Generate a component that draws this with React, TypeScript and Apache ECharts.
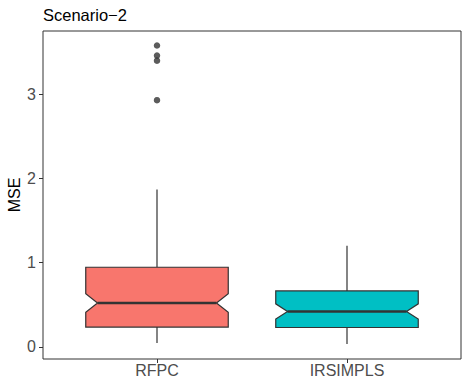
import React, { useEffect, useRef } from "react";
import * as echarts from "echarts";

const categories = ["RFPC", "IRSIMPLS"];
const lowerWhisker = [0.045, 0.032];
const q1 = [0.234, 0.229];
const notchLower = [0.41, 0.33];
const median = [0.52, 0.42];
const notchUpper = [0.63, 0.51];
const q3 = [0.945, 0.664];
const upperWhisker = [1.87, 1.2];
const outlierGroup = [1, 1, 1, 1];
const outlierValues = [3.58, 3.46, 3.4, 2.93];
const fillColors = ["#F8766D", "#00BFC4"];
const yTicks = [0, 1, 2, 3];

export default function App() {
  const ref = useRef<HTMLDivElement>(null);
  useEffect(() => {
    if (!ref.current) return;
    const chart = echarts.init(ref.current, null, { renderer: "svg" });
    const boxData = categories.map((_, i) => [
      i + 1,
      lowerWhisker[i],
      q1[i],
      notchLower[i],
      median[i],
      notchUpper[i],
      q3[i],
      upperWhisker[i],
    ]);
    const font = "Liberation Sans, Arial, Helvetica, sans-serif";
    chart.setOption({
      animation: false,
      backgroundColor: "#ffffff",
      title: {
        text: "Scenario\u22122",
        left: 43,
        top: 6,
        padding: 0,
        textStyle: { fontFamily: font, fontSize: 16.5, fontWeight: "normal", color: "#000" },
      },
      grid: {
        left: 43,
        right: 8,
        top: 31,
        bottom: 31,
        show: true,
        borderColor: "#333333",
        borderWidth: 1,
        backgroundColor: "transparent",
      },
      xAxis: {
        type: "value",
        min: 0.4,
        max: 2.6,
        splitLine: { show: false },
        axisLine: { show: false, onZero: false },
        axisTick: { show: true, customValues: [1, 2], length: 4, lineStyle: { color: "#333333" } },
        axisLabel: {
          customValues: [1, 2],
          formatter: (v: number) => categories[Math.round(v) - 1] ?? "",
          fontFamily: font,
          fontSize: 16,
          color: "#4D4D4D",
          margin: 3,
        },
      },
      yAxis: {
        type: "value",
        min: -0.145,
        max: 3.752,
        splitLine: { show: false },
        axisLine: { show: false, onZero: false },
        axisTick: { show: true, customValues: yTicks, length: 4, lineStyle: { color: "#333333" } },
        axisLabel: {
          customValues: yTicks,
          fontFamily: font,
          fontSize: 16,
          color: "#4D4D4D",
          margin: 7,
        },
      },
      graphic: [
        {
          type: "text",
          x: 14,
          y: 195,
          rotation: Math.PI / 2,
          style: {
            text: "MSE",
            fontFamily: font,
            fontSize: 16,
            fill: "#000",
            align: "center",
            verticalAlign: "middle",
          },
        },
      ],
      series: [
        {
          type: "custom",
          data: boxData,
          renderItem: (params: any, api: any) => {
            const x = api.value(0);
            const lo = api.value(1);
            const b1 = api.value(2);
            const nl = api.value(3);
            const md = api.value(4);
            const nu = api.value(5);
            const b3 = api.value(6);
            const hi = api.value(7);
            const half = 0.375;
            const inset = 0.062;
            const p = (xx: number, yy: number) => api.coord([xx, yy]);
            const xl = x - half;
            const xr = x + half;
            const pts = [
              p(xl, b3),
              p(xr, b3),
              p(xr, nu),
              p(xr - inset, md),
              p(xr, nl),
              p(xr, b1),
              p(xl, b1),
              p(xl, nl),
              p(xl + inset, md),
              p(xl, nu),
            ];
            const stroke = "#333333";
            const c = p(x, hi);
            const c2 = p(x, b3);
            const c3 = p(x, b1);
            const c4 = p(x, lo);
            const m1 = p(xl + inset, md);
            const m2 = p(xr - inset, md);
            return {
              type: "group",
              children: [
                { type: "line", shape: { x1: c[0], y1: c[1], x2: c2[0], y2: c2[1] }, style: { stroke, lineWidth: 1.2 } },
                { type: "line", shape: { x1: c3[0], y1: c3[1], x2: c4[0], y2: c4[1] }, style: { stroke, lineWidth: 1.2 } },
                {
                  type: "polygon",
                  shape: { points: pts },
                  style: { fill: fillColors[params.dataIndex], stroke, lineWidth: 1.2 },
                },
                { type: "line", shape: { x1: m1[0], y1: m1[1], x2: m2[0], y2: m2[1] }, style: { stroke, lineWidth: 2.6 } },
              ],
            };
          },
        },
        {
          type: "scatter",
          data: outlierGroup.map((g, i) => [g, outlierValues[i]]),
          symbol: "circle",
          symbolSize: 6.5,
          itemStyle: { color: "#333333" },
        },
      ],
    });
    return () => chart.dispose();
  }, []);
  return <div ref={ref} style={{ position: "absolute", left: 0, top: 0, width: 469, height: 390 }} />;
}
